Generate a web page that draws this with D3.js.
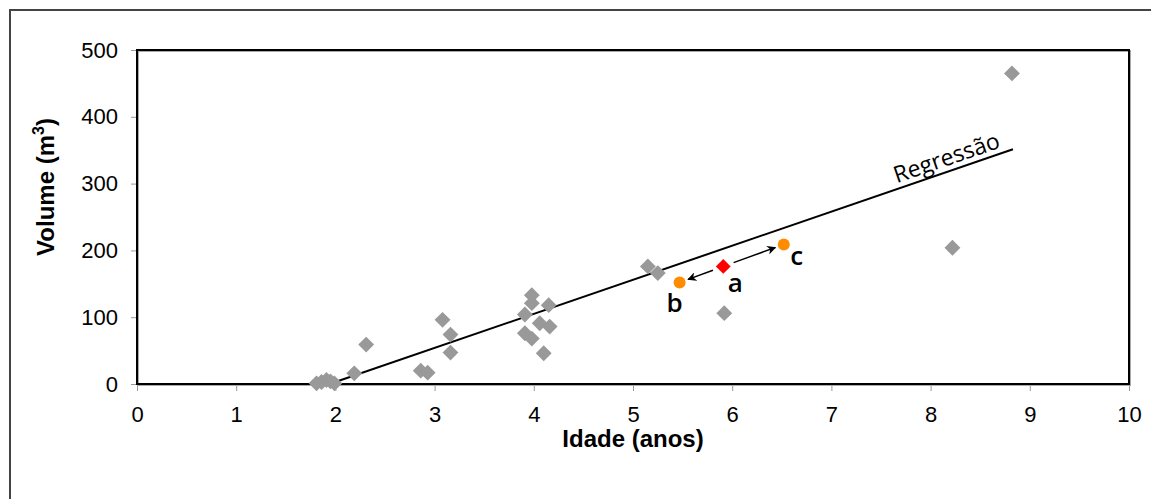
<!DOCTYPE html>
<html>
<head>
<meta charset="utf-8">
<script src="https://cdn.jsdelivr.net/npm/d3@7"></script>
<style>
  body { margin: 0; background: #fff; }
  svg { display: block; }
  .tick text { font-family: "Liberation Sans", Arial, sans-serif; font-size: 22px; fill: #000; }
  .tick line { stroke: #999; }
  .domain { display: none; }
  .ttl { font-family: "Liberation Sans", Arial, sans-serif; font-size: 24px; font-weight: bold; }
  .lbl { font-family: "Open Sans", sans-serif; }
</style>
</head>
<body>
<svg id="chart"></svg>
<script>
// observações (idade, volume)
var idade  = [1.81, 1.86, 1.91, 1.95, 1.99, 2.19, 2.31, 2.86, 2.93, 3.08, 3.16, 3.16,
              3.91, 3.91, 3.98, 3.98, 3.98, 4.06, 4.10, 4.15, 4.16, 5.15, 5.25, 5.92, 8.22, 8.82];
var volume = [1, 3, 6, 4, 1, 16, 59, 20, 17, 96, 74, 47,
              104, 76, 133, 121, 68, 91, 46, 118, 86, 176, 166, 106, 204, 465];

// pontos destacados
var destaqueNome = ["a", "b", "c"];
var destaqueX = [5.91, 5.47, 6.52];
var destaqueY = [176, 152, 209];

// regressão: volume = inclinacao * idade + intercepto
var regInclinacao = 51.0;
var regIntercepto = -99.0;
var regInicio = 1.94, regFim = 8.83;

var xTicks = [0, 1, 2, 3, 4, 5, 6, 7, 8, 9, 10];
var yTicks = [0, 100, 200, 300, 400, 500];

var W = 1151, H = 499;
var margin = {top: 50, right: 22, bottom: 115, left: 137};
var width = W - margin.left - margin.right,
    height = H - margin.top - margin.bottom;

var svg = d3.select("#chart").attr("width", W).attr("height", H);

// moldura externa
svg.append("rect")
    .attr("x", 10).attr("y", 10)
    .attr("width", W + 20).attr("height", H + 20)
    .attr("fill", "none").attr("stroke", "#444").attr("stroke-width", 2);

var g = svg.append("g")
    .attr("transform", "translate(" + margin.left + "," + margin.top + ")");

var x = d3.scaleLinear().domain([0, 10]).range([0, width]);
var y = d3.scaleLinear().domain([0, 500]).range([height, 0]);

// eixos
g.append("g")
    .attr("transform", "translate(0," + height + ")")
    .call(d3.axisBottom(x).tickValues(xTicks).tickSize(7).tickPadding(15))
    .selectAll(".tick text").attr("dy", "0.71em");

g.append("g")
    .call(d3.axisLeft(y).tickValues(yTicks).tickSize(6).tickPadding(13));

// caixa da área de plotagem
g.append("rect")
    .attr("x", 1).attr("y", 1)
    .attr("width", width).attr("height", height)
    .attr("fill", "none").attr("stroke", "#aaa").attr("stroke-width", 2);
g.append("rect")
    .attr("width", width).attr("height", height)
    .attr("fill", "none").attr("stroke", "#000").attr("stroke-width", 2);

// linha de regressão
var regY = function(v) { return regInclinacao * v + regIntercepto; };
g.append("line")
    .attr("x1", x(regInicio)).attr("y1", y(regY(regInicio)))
    .attr("x2", x(regFim)).attr("y2", y(regY(regFim)))
    .attr("stroke", "#000").attr("stroke-width", 2);

var ang = Math.atan2(y(regY(regFim)) - y(regY(regInicio)), x(regFim) - x(regInicio)) * 180 / Math.PI;
var lx = 7.66;
g.append("text")
    .attr("class", "lbl")
    .attr("transform", "translate(" + x(lx) + "," + (y(regY(lx)) - 6) + ") rotate(" + ang + ")")
    .attr("font-size", 23)
    .text("Regressão");

// pontos observados
var diamond = d3.symbol().type(d3.symbolDiamond2).size(160);
g.selectAll(".obs")
    .data(idade)
    .enter()
    .append("path")
    .attr("class", "obs")
    .attr("d", diamond)
    .attr("fill", "#999")
    .attr("transform", function(d, i) {
        return "translate(" + x(d) + "," + y(volume[i]) + ")";
    });

// setas de a para b e c
svg.append("defs").append("marker")
    .attr("id", "seta")
    .attr("viewBox", "0 0 10 10")
    .attr("refX", 9).attr("refY", 5)
    .attr("markerWidth", 9).attr("markerHeight", 9)
    .attr("markerUnits", "userSpaceOnUse")
    .attr("orient", "auto")
    .append("path")
    .attr("d", "M0,0 L10,5 L0,10 L3,5 Z")
    .attr("fill", "#000");

[1, 2].forEach(function(k) {
    var ax = x(destaqueX[0]), ay = y(destaqueY[0]);
    var bx = x(destaqueX[k]), by = y(destaqueY[k]);
    var dx = bx - ax, dy = by - ay, len = Math.sqrt(dx * dx + dy * dy);
    var ux = dx / len, uy = dy / len;
    g.append("line")
        .attr("x1", ax + ux * 11).attr("y1", ay + uy * 11)
        .attr("x2", bx - ux * 9).attr("y2", by - uy * 9)
        .attr("stroke", "#000").attr("stroke-width", 1.5)
        .attr("marker-end", "url(#seta)");
});

// ponto a (losango vermelho), b e c (círculos laranja)
g.append("path")
    .attr("d", d3.symbol().type(d3.symbolDiamond2).size(140))
    .attr("fill", "#ff0000")
    .attr("transform", "translate(" + x(destaqueX[0]) + "," + y(destaqueY[0]) + ")");

g.selectAll(".dest")
    .data([1, 2])
    .enter()
    .append("circle")
    .attr("class", "dest")
    .attr("cx", function(k) { return x(destaqueX[k]); })
    .attr("cy", function(k) { return y(destaqueY[k]); })
    .attr("r", 6)
    .attr("fill", "#ff8c00");

var lblDx = [12, -5, 13], lblDy = [26, 30, 21];
g.selectAll(".nome")
    .data(destaqueNome)
    .enter()
    .append("text")
    .attr("class", "lbl")
    .attr("font-size", 26)
    .attr("font-weight", 600)
    .attr("text-anchor", "middle")
    .attr("x", function(d, i) { return x(destaqueX[i]) + lblDx[i]; })
    .attr("y", function(d, i) { return y(destaqueY[i]) + lblDy[i]; })
    .text(function(d) { return d; });

// títulos dos eixos
svg.append("text")
    .attr("class", "ttl")
    .attr("text-anchor", "middle")
    .attr("x", margin.left + width / 2)
    .attr("y", 447)
    .text("Idade (anos)");

var yt = svg.append("text")
    .attr("class", "ttl")
    .attr("text-anchor", "middle")
    .attr("transform", "translate(54," + (margin.top + 137) + ") rotate(-90)");
yt.append("tspan").text("Volume (m");
yt.append("tspan").attr("font-size", 16).attr("dy", -10).text("3");
yt.append("tspan").attr("dy", 10).text(")");
</script>
</body>
</html>
